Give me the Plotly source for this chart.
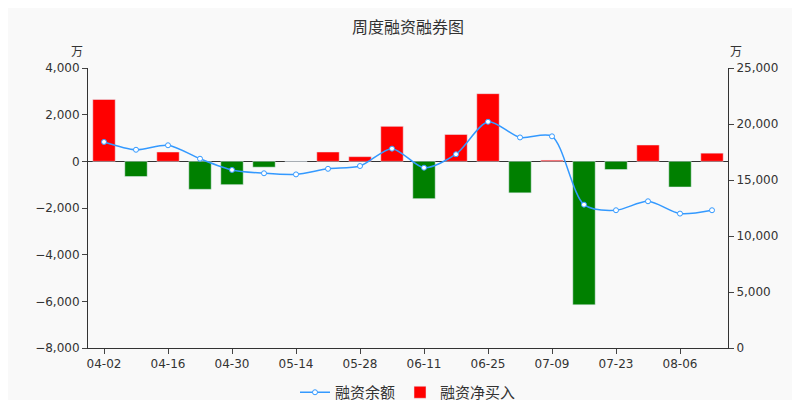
import plotly.graph_objects as go

dates = ["04-02","04-09","04-16","04-23","04-30","05-07","05-14","05-21","05-28","06-04",
         "06-11","06-18","06-25","07-02","07-09","07-16","07-23","07-30","08-06","08-13"]
net_buy = [2650,-650,400,-1200,-1000,-250,0,400,200,1500,
           -1600,1150,2900,-1350,50,-6150,-350,700,-1100,350]
balance = [18400,17700,18100,16900,15900,15600,15500,16000,16250,17800,
           16100,17300,20200,18800,18900,12800,12300,13100,12000,12300]
tick_labels = ["04-02","04-16","04-30","05-14","05-28","06-11","06-25","07-09","07-23","08-06"]

colors = ["#ff0000" if v >= 0 else "#008000" for v in net_buy]
font = "DejaVu Sans, Noto Sans CJK SC"

fig = go.Figure()
fig.add_trace(go.Bar(x=dates, y=net_buy, marker_color=colors, name="融资净买入", width=0.7))
fig.add_trace(go.Scatter(x=dates, y=balance, yaxis="y2", name="融资余额", mode="lines+markers",
                         line=dict(color="#3399ff", width=1.5, shape="spline", smoothing=0.8),
                         marker=dict(size=5, color="white", line=dict(color="#3399ff", width=1))))
fig.update_layout(
    width=800, height=400, paper_bgcolor="#f9f9f9", plot_bgcolor="#f9f9f9",
    margin=dict(l=80, r=80, t=60, b=60, autoexpand=False),
    font=dict(family=font, size=12, color="#333"),
    title=dict(text="周度融资融券图", x=0.5, y=0.965, xanchor="center",
               font=dict(size=16, color="#333", family="Noto Sans CJK SC")),
    xaxis=dict(type="category", range=[-0.5, 19.5], tickvals=tick_labels, ticktext=tick_labels, showline=True,
               linecolor="#333", ticks="outside", showgrid=False, tickfont=dict(color="#333")),
    yaxis=dict(range=[-8000, 4000], dtick=2000, tickformat=",", showline=True, linecolor="#333",
               ticks="outside", showgrid=False, zeroline=True, zerolinecolor="#333", zerolinewidth=1),
    yaxis2=dict(range=[0, 25000], dtick=5000, tickformat=",", overlaying="y", side="right",
                showline=True, linecolor="#333", ticks="outside", showgrid=False, zeroline=False),
    legend=dict(orientation="h", x=0.5, xanchor="center", y=-0.1, yanchor="top", traceorder="reversed",
                font=dict(size=15, family="Noto Sans CJK SC")),
    annotations=[dict(text="万", xref="paper", yref="paper", x=-0.005, y=1.1, showarrow=False, xanchor="right",
                      font=dict(family="Noto Sans CJK SC")),
                 dict(text="万", xref="paper", yref="paper", x=1.0, y=1.1, showarrow=False, xanchor="left",
                      font=dict(family="Noto Sans CJK SC"))],
)
fig.write_html("out.html")
